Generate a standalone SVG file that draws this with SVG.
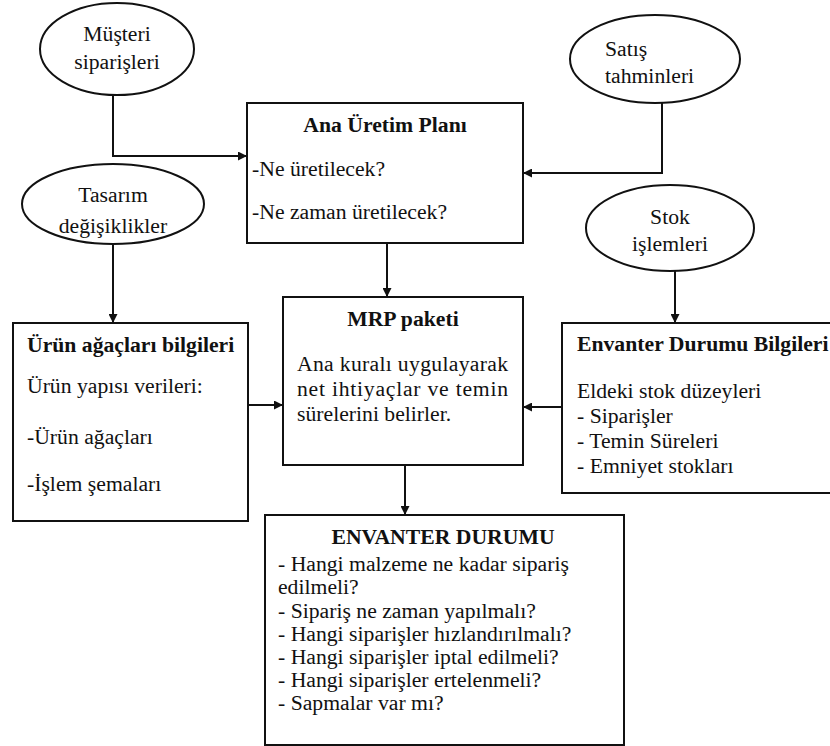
<svg xmlns="http://www.w3.org/2000/svg" width="830" height="746" viewBox="0 0 830 746">
<style>
text{font-family:'Liberation Serif','Times New Roman',serif;font-size:20px;fill:#111;transform-box:fill-box;transform-origin:left center;transform:scaleX(1.085)}
.b{font-weight:bold}
.m{text-anchor:middle;transform-origin:center}
.s{fill:#fff;stroke:#111;stroke-width:2}
.c{fill:none;stroke:#111;stroke-width:2}
</style>
<defs>
<marker id="a" viewBox="0 0 10 10" refX="10" refY="5" markerWidth="9" markerHeight="9" markerUnits="userSpaceOnUse" orient="auto"><path d="M0,0L10,5L0,10z" fill="#111"/></marker>
</defs>
<g id="connectors">
<path class="c" d="M113,95V156H247" marker-end="url(#a)"/>
<path class="c" d="M662,103V173H523" marker-end="url(#a)"/>
<path class="c" d="M113,244V323" marker-end="url(#a)"/>
<path class="c" d="M387,243V297" marker-end="url(#a)"/>
<path class="c" d="M675,271V323" marker-end="url(#a)"/>
<path class="c" d="M248,405H283" marker-end="url(#a)"/>
<path class="c" d="M562,407H523" marker-end="url(#a)"/>
<path class="c" d="M405,465V515" marker-end="url(#a)"/>
</g>
<g id="musteri"><ellipse class="s" cx="117" cy="49" rx="77" ry="46"/><text class="m" x="117" y="41">Müşteri</text><text class="m" x="117" y="69">siparişleri</text></g>
<g id="satis"><ellipse class="s" cx="655" cy="59" rx="85" ry="44"/><text x="605" y="56">Satış</text><text x="605" y="83">tahminleri</text></g>
<g id="tasarim"><ellipse class="s" cx="113" cy="204" rx="91" ry="40"/><text class="m" x="113" y="202">Tasarım</text><text class="m" x="113" y="233">değişiklikler</text></g>
<g id="stok"><ellipse class="s" cx="670" cy="228" rx="84" ry="43"/><text class="m" x="670" y="224">Stok</text><text class="m" x="670" y="251">işlemleri</text></g>
<g id="ana"><rect class="s" x="247" y="103" width="276" height="140"/><text class="b m" x="385" y="132">Ana Üretim Planı</text><text x="252" y="176">-Ne üretilecek?</text><text x="252" y="219">-Ne zaman üretilecek?</text></g>
<g id="mrp"><rect class="s" x="283" y="297" width="240" height="168"/><text class="b m" x="403" y="326">MRP paketi</text><text x="297" y="371" textLength="194.5" lengthAdjust="spacing">Ana kuralı uygulayarak</text><text x="297" y="396" textLength="194.5" lengthAdjust="spacing">net ihtiyaçlar ve temin</text><text x="297" y="421">sürelerini belirler.</text></g>
<g id="urun"><rect class="s" x="13" y="323" width="235" height="198"/><text class="b" x="27" y="352">Ürün ağaçları bilgileri</text><text x="27" y="393">Ürün yapısı verileri:</text><text x="27" y="444">-Ürün ağaçları</text><text x="27" y="491">-İşlem şemaları</text></g>
<g id="envbilgi"><rect class="s" x="562" y="323" width="272" height="170"/><text class="b" x="577" y="351">Envanter Durumu Bilgileri</text><text x="577" y="398">Eldeki stok düzeyleri</text><text x="577" y="423">- Siparişler</text><text x="577" y="448">- Temin Süreleri</text><text x="577" y="473">- Emniyet stokları</text></g>
<g id="envdurum"><rect class="s" x="265" y="515" width="359" height="230"/><text class="b m" x="443" y="544">ENVANTER DURUMU</text><text x="278" y="571">- Hangi malzeme ne kadar sipariş</text><text x="278" y="594">edilmeli?</text><text x="278" y="618">- Sipariş ne zaman yapılmalı?</text><text x="278" y="641">- Hangi siparişler hızlandırılmalı?</text><text x="278" y="664">- Hangi siparişler iptal edilmeli?</text><text x="278" y="687">- Hangi siparişler ertelenmeli?</text><text x="278" y="710">- Sapmalar var mı?</text></g>
</svg>
